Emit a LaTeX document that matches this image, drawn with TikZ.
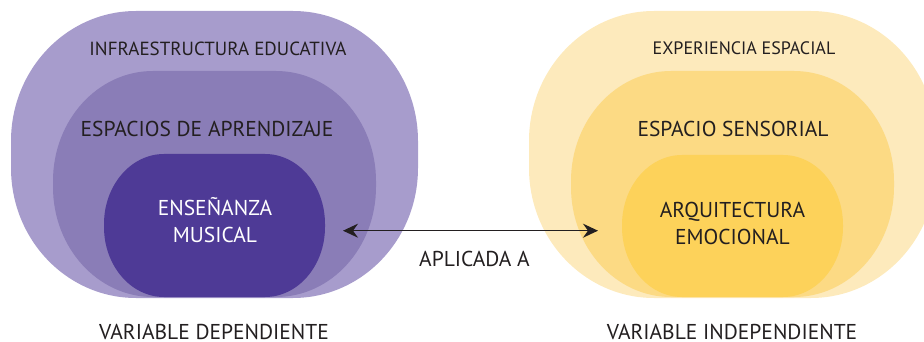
\documentclass[tikz,border=0pt]{standalone}
\usepackage{fontspec}
\setmainfont{PT Sans}
\usetikzlibrary{arrows.meta}
\definecolor{pOuter}{RGB}{167,156,204}
\definecolor{pMid}{RGB}{138,125,183}
\definecolor{pIn}{RGB}{78,58,150}
\definecolor{yOuter}{RGB}{253,234,188}
\definecolor{yMid}{RGB}{252,218,132}
\definecolor{yIn}{RGB}{253,210,90}
\definecolor{ink}{RGB}{35,31,32}
% \blobshape{x1}{y1}{x2}{y2}{rx}{ry}{colour}  (image pixels, y downwards)
\newcommand{\blobshape}[7]{%
  \fill[#7] ({#1+#5},{-#2}) -- ({#3-#5},{-#2})
    arc[start angle=90,end angle=0,x radius=#5pt,y radius=#6pt]
    -- ({#3},{-#4+#6})
    arc[start angle=0,end angle=-90,x radius=#5pt,y radius=#6pt]
    -- ({#1+#5},{-#4})
    arc[start angle=270,end angle=180,x radius=#5pt,y radius=#6pt]
    -- ({#1},{-#2-#6})
    arc[start angle=180,end angle=90,x radius=#5pt,y radius=#6pt]
    -- cycle;}
\tikzset{
  lbl/.style={anchor=base,inner sep=0pt,text=ink,font=\fontsize{21.5}{24}\selectfont},
  lblsmall/.style={lbl,font=\fontsize{19}{22}\selectfont},
  lblsmaller/.style={lbl,font=\fontsize{18}{21}\selectfont},
  lblwhite/.style={lbl,text=white},
  link/.style={draw=ink,line width=1.5pt,{Stealth[length=15pt,width=14pt,inset=5pt]}-{Stealth[length=15pt,width=14pt,inset=5pt]}}
}
\begin{document}
\begin{tikzpicture}[x=1pt,y=1pt]
\useasboundingbox (0,0) rectangle (924,-342);
\clip (0,0) rectangle (924,-342);
% purple group
\blobshape{11}{11}{418}{298}{125}{130}{pOuter}
\blobshape{53}{71}{376}{297}{100}{110}{pMid}
\blobshape{104}{154}{325}{297}{60}{70}{pIn}
% yellow group
\blobshape{529}{11}{936}{298}{125}{130}{yOuter}
\blobshape{571}{71}{894}{297}{100}{110}{yMid}
\blobshape{622}{155}{843}{297}{60}{70}{yIn}
% labels
\node[lblsmall] (infra) at (218,-56) {INFRAESTRUCTURA EDUCATIVA};
\node[lbl] (espap) at (207,-137) {ESPACIOS DE APRENDIZAJE};
\node[lblwhite] (ens) at (215,-215) {ENSEÑANZA};
\node[lblwhite] (mus) at (215,-242) {MUSICAL};
\node[lbl] (vdep) at (214,-339.5) {VARIABLE DEPENDIENTE};
\node[lblsmaller] (expe) at (744,-55) {EXPERIENCIA ESPACIAL};
\node[lbl] (esps) at (733,-137) {ESPACIO SENSORIAL};
\node[lbl] (arq) at (732.5,-217) {ARQUITECTURA};
\node[lbl] (emo) at (732.5,-244) {EMOCIONAL};
\node[lbl] (vind) at (732,-339.5) {VARIABLE INDEPENDIENTE};
\node[lbl] (apl) at (474.5,-266) {APLICADA A};
% connector
\coordinate (arrL) at (343,-230.7);
\coordinate (arrR) at (598,-230.7);
\draw[link] (arrL) -- (arrR);
\end{tikzpicture}
\end{document}
